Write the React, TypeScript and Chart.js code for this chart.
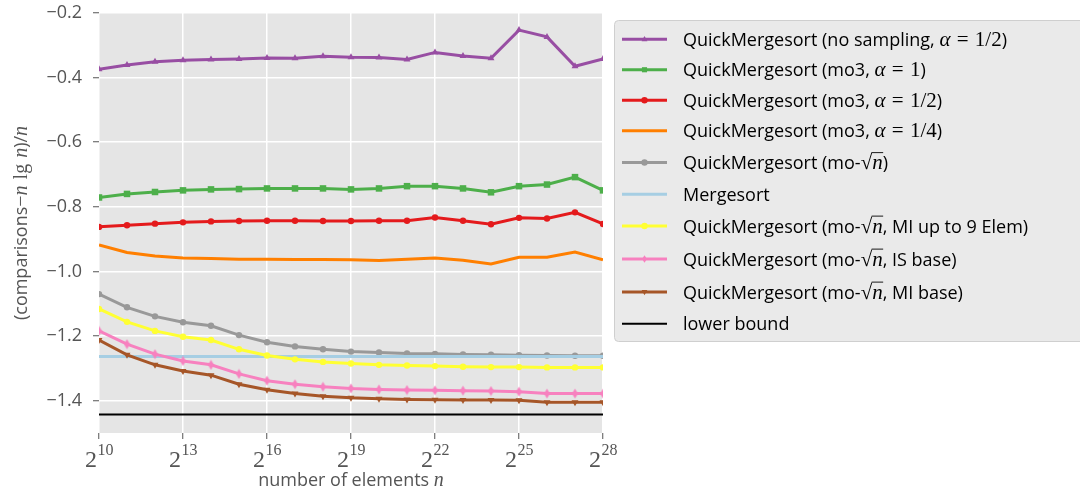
import React, { useEffect, useRef } from "react";
import { Chart, registerables } from "chart.js";
Chart.register(...registerables);

// ---- data ----
const EXPONENTS = [10, 11, 12, 13, 14, 15, 16, 17, 18, 19, 20, 21, 22, 23, 24, 25, 26, 27, 28];
const X_TICKS = [10, 13, 16, 19, 22, 25, 28];
const Y_TICKS = [-1.4, -1.2, -1.0, -0.8, -0.6, -0.4, -0.2];

const SERIES_LABELS = [
  "QuickMergesort (no sampling, $α = 1/2$)",
  "QuickMergesort (mo3, $α = 1$)",
  "QuickMergesort (mo3, $α = 1/2$)",
  "QuickMergesort (mo3, $α = 1/4$)",
  "QuickMergesort (mo-$√n$)",
  "Mergesort",
  "QuickMergesort (mo-$√n$, MI up to 9 Elem)",
  "QuickMergesort (mo-$√n$, IS base)",
  "QuickMergesort (mo-$√n$, MI base)",
  "lower bound",
];

const NO_SAMPLING = [-0.374, -0.361, -0.351, -0.346, -0.344, -0.342, -0.339, -0.340, -0.334, -0.337, -0.338, -0.344, -0.322, -0.333, -0.340, -0.253, -0.274, -0.365, -0.342];
const MO3_A1 = [-0.771, -0.760, -0.754, -0.749, -0.746, -0.745, -0.743, -0.743, -0.743, -0.746, -0.743, -0.736, -0.736, -0.743, -0.755, -0.736, -0.731, -0.708, -0.749];
const MO3_A12 = [-0.862, -0.857, -0.852, -0.848, -0.845, -0.844, -0.843, -0.843, -0.844, -0.844, -0.843, -0.843, -0.833, -0.843, -0.854, -0.834, -0.836, -0.817, -0.853];
const MO3_A14 = [-0.918, -0.941, -0.952, -0.958, -0.960, -0.962, -0.962, -0.963, -0.963, -0.964, -0.966, -0.962, -0.958, -0.965, -0.977, -0.956, -0.956, -0.940, -0.964];
const MO_SQRT = [-1.070, -1.111, -1.139, -1.157, -1.168, -1.197, -1.219, -1.232, -1.241, -1.248, -1.251, -1.254, -1.255, -1.257, -1.258, -1.259, -1.260, -1.261, -1.261];
const MERGESORT = [-1.263, -1.263, -1.263, -1.263, -1.263, -1.263, -1.263, -1.263, -1.263, -1.263, -1.263, -1.263, -1.263, -1.263, -1.263, -1.263, -1.263, -1.263, -1.263];
const MO_SQRT_MI9 = [-1.116, -1.156, -1.184, -1.202, -1.212, -1.241, -1.260, -1.272, -1.280, -1.285, -1.289, -1.291, -1.293, -1.295, -1.296, -1.296, -1.297, -1.297, -1.297];
const MO_SQRT_IS = [-1.184, -1.225, -1.256, -1.277, -1.289, -1.317, -1.338, -1.349, -1.357, -1.362, -1.365, -1.367, -1.368, -1.369, -1.370, -1.372, -1.378, -1.378, -1.378];
const MO_SQRT_MI = [-1.212, -1.258, -1.289, -1.308, -1.321, -1.349, -1.366, -1.378, -1.386, -1.391, -1.394, -1.396, -1.397, -1.398, -1.398, -1.399, -1.405, -1.405, -1.405];
const LOWER_BOUND = [-1.443, -1.443, -1.443, -1.443, -1.443, -1.443, -1.443, -1.443, -1.443, -1.443, -1.443, -1.443, -1.443, -1.443, -1.443, -1.443, -1.443, -1.443, -1.443];

const SERIES_VALUES = [NO_SAMPLING, MO3_A1, MO3_A12, MO3_A14, MO_SQRT, MERGESORT, MO_SQRT_MI9, MO_SQRT_IS, MO_SQRT_MI, LOWER_BOUND];
const COLORS = ["#984ea3", "#4daf4a", "#e41a1c", "#ff7f00", "#999999", "#a6cee3", "#ffff33", "#f781bf", "#a65628", "#000000"];
const MARKERS = ["triangle", "rect", "circle", "none", "circle", "none", "circle", "thinDiamond", "triangleDown", "none"];

// ---- styles ----
const SANS = '"Open Sans"';
const SERIF = '"Liberation Serif"';
const TEXT_GRAY = "#555555";

type Seg = { text: string; font: string; over?: boolean; space?: number };

function parseRich(str: string, sansSize: number, mathSize: number): Seg[] {
  const parts = str.split("$");
  const segs: Seg[] = [];
  parts.forEach((p, idx) => {
    if (!p) return;
    if (idx % 2 === 0) {
      segs.push({ text: p, font: `${sansSize}px ${SANS}` });
    } else {
      const toks = p.match(/[A-Za-z]{2,}|[A-Za-zα-ω]|√|\s+|[^A-Za-zα-ω√\s]/g) || [];
      let over = false;
      for (const t of toks) {
        if (/^\s+$/.test(t)) {
          segs.push({ text: "", font: `${mathSize}px ${SERIF}`, space: mathSize * 0.3 });
          continue;
        }
        const single = /^[A-Za-zα-ω]$/.test(t);
        segs.push({ text: t, font: `${single ? "italic " : ""}${mathSize}px ${SERIF}`, over });
        over = t === "√";
      }
    }
  });
  return segs;
}

function segWidth(ctx: CanvasRenderingContext2D, s: Seg) {
  if (s.space !== undefined) return s.space;
  ctx.font = s.font;
  return ctx.measureText(s.text).width;
}

function richWidth(ctx: CanvasRenderingContext2D, segs: Seg[]) {
  let w = 0;
  for (const s of segs) w += segWidth(ctx, s);
  return w;
}

function drawRich(ctx: CanvasRenderingContext2D, segs: Seg[], x: number, y: number, color: string, mathSize: number) {
  let cx = x;
  ctx.fillStyle = color;
  ctx.strokeStyle = color;
  ctx.textBaseline = "alphabetic";
  ctx.textAlign = "left";
  for (const s of segs) {
    const w = segWidth(ctx, s);
    if (s.text) {
      ctx.font = s.font;
      ctx.fillText(s.text, cx, y);
    }
    if (s.over) {
      ctx.lineWidth = 0.9;
      ctx.beginPath();
      const oy = y - mathSize * 0.78;
      ctx.moveTo(cx - 0.5, oy);
      ctx.lineTo(cx + w + 0.5, oy);
      ctx.stroke();
    }
    cx += w;
  }
}

function drawMarker(ctx: CanvasRenderingContext2D, style: string, x: number, y: number, r: number, color: string) {
  ctx.fillStyle = color;
  ctx.beginPath();
  if (style === "circle") {
    ctx.arc(x, y, r, 0, Math.PI * 2);
  } else if (style === "rect") {
    const s = r * 0.8;
    ctx.rect(x - s, y - s, 2 * s, 2 * s);
  } else if (style === "triangle") {
    ctx.moveTo(x, y - r);
    ctx.lineTo(x + r * 0.9, y + r * 0.6);
    ctx.lineTo(x - r * 0.9, y + r * 0.6);
  } else if (style === "triangleDown") {
    ctx.moveTo(x, y + r);
    ctx.lineTo(x + r * 0.9, y - r * 0.6);
    ctx.lineTo(x - r * 0.9, y - r * 0.6);
  } else if (style === "thinDiamond") {
    ctx.moveTo(x, y - r * 1.2);
    ctx.lineTo(x + r * 0.75, y);
    ctx.lineTo(x, y + r * 1.2);
    ctx.lineTo(x - r * 0.75, y);
  } else {
    return;
  }
  ctx.closePath();
  ctx.fill();
}

function makeThinDiamond(color: string) {
  const c = document.createElement("canvas");
  c.width = 7;
  c.height = 11;
  const g = c.getContext("2d")!;
  g.fillStyle = color;
  g.beginPath();
  g.moveTo(3.5, 0.5);
  g.lineTo(6.5, 5.5);
  g.lineTo(3.5, 10.5);
  g.lineTo(0.5, 5.5);
  g.closePath();
  g.fill();
  return c;
}

const bgPlugin = {
  id: "plotBg",
  beforeDraw(chart: any) {
    const { ctx, chartArea } = chart;
    ctx.save();
    ctx.fillStyle = "#e5e5e5";
    ctx.fillRect(chartArea.left, chartArea.top, chartArea.right - chartArea.left, chartArea.bottom - chartArea.top);
    ctx.restore();
  },
};

const decorPlugin = {
  id: "decor",
  afterDraw(chart: any) {
    const { ctx, chartArea } = chart;
    const xs = chart.scales.x;
    ctx.save();
    // x tick labels 2^k
    ctx.fillStyle = TEXT_GRAY;
    ctx.textBaseline = "alphabetic";
    ctx.textAlign = "left";
    const baseY = chartArea.bottom + 34;
    for (const v of X_TICKS) {
      const px = xs.getPixelForValue(v);
      ctx.font = `24px ${SERIF}`;
      const wb = ctx.measureText("2").width;
      ctx.font = `16px ${SERIF}`;
      const we = ctx.measureText(String(v)).width;
      const start = px - (wb + we) / 2;
      ctx.font = `24px ${SERIF}`;
      ctx.fillText("2", start, baseY);
      ctx.font = `16px ${SERIF}`;
      ctx.fillText(String(v), start + wb + 0.5, baseY - 12);
    }
    // x title
    const xt = parseRich("number of elements $n$", 18, 20);
    const xw = richWidth(ctx, xt);
    drawRich(ctx, xt, (chartArea.left + chartArea.right) / 2 - xw / 2, 486, TEXT_GRAY, 20);
    // y title
    const yt = parseRich("(comparisons$−n lg n$)/$n$", 18, 20);
    const yw = richWidth(ctx, yt);
    ctx.save();
    ctx.translate(27, (chartArea.top + chartArea.bottom) / 2);
    ctx.rotate(-Math.PI / 2);
    drawRich(ctx, yt, -yw / 2, 0, TEXT_GRAY, 20);
    ctx.restore();

    // legend
    const lx = 614.5;
    const ly = 20.5;
    ctx.beginPath();
    (ctx as any).roundRect(lx, ly, 500, 321, 4);
    ctx.fillStyle = "#eaeaea";
    ctx.fill();
    ctx.strokeStyle = "#cfcfcf";
    ctx.lineWidth = 1;
    ctx.stroke();

    let y = 24;
    chart.data.datasets.forEach((ds: any, i: number) => {
      const label: string = ds.label;
      const h = label.includes("√") ? 33 : 30.5;
      const cy = y + h / 2;
      y += h;
      ctx.strokeStyle = ds.borderColor;
      ctx.lineWidth = ds.borderWidth;
      ctx.beginPath();
      ctx.moveTo(622, cy);
      ctx.lineTo(667, cy);
      ctx.stroke();
      drawMarker(ctx, MARKERS[i], 644.5, cy, 3.2, ds.borderColor);
      const segs = parseRich(label, 18, 21);
      drawRich(ctx, segs, 683, cy + 6.5, "#000000", 21);
    });
    ctx.restore();
  },
};

export default function App() {
  const ref = useRef<HTMLCanvasElement>(null);
  useEffect(() => {
    const diamond = makeThinDiamond(COLORS[7]);
    const datasets = SERIES_VALUES.map((vals, i) => {
      const m = MARKERS[i];
      let pointStyle: any = "circle";
      let rotation = 0;
      let radius = 3.2;
      if (m === "triangle") { pointStyle = "triangle"; radius = 4; }
      else if (m === "triangleDown") { pointStyle = "triangle"; rotation = 180; radius = 4; }
      else if (m === "rect") { pointStyle = "rect"; radius = 4.6; }
      else if (m === "thinDiamond") { pointStyle = diamond; radius = 4; }
      else if (m === "none") { radius = 0; }
      return {
        label: SERIES_LABELS[i],
        data: EXPONENTS.map((x, j) => ({ x, y: vals[j] })),
        borderColor: COLORS[i],
        backgroundColor: COLORS[i],
        pointBackgroundColor: COLORS[i],
        pointBorderColor: COLORS[i],
        pointBorderWidth: 0,
        borderWidth: i === 9 ? 2 : 3,
        pointRadius: radius,
        pointStyle,
        pointRotation: rotation,
        tension: 0,
        order: -i,
      };
    });

    const chart = new Chart(ref.current!, {
      type: "line",
      data: { datasets },
      plugins: [bgPlugin, decorPlugin],
      options: {
        responsive: false,
        animation: false,
        devicePixelRatio: 1,
        layout: { padding: { top: 13, right: 477, left: 0, bottom: 0 } },
        plugins: { legend: { display: false }, tooltip: { enabled: false } },
        scales: {
          x: {
            type: "linear",
            min: 10,
            max: 28,
            afterBuildTicks: (s: any) => { s.ticks = X_TICKS.map((v) => ({ value: v })); },
            afterFit: (s: any) => { s.height = 62; s.paddingLeft = 0; s.paddingRight = 0; },
            border: { display: false },
            grid: { color: "#ffffff", lineWidth: 1.5, tickColor: "#555555", tickLength: 6, tickWidth: 1 },
            ticks: { callback: () => "", font: { size: 1 } },
          },
          y: {
            type: "linear",
            min: -1.5,
            max: -0.2,
            afterBuildTicks: (s: any) => { s.ticks = Y_TICKS.map((v) => ({ value: v })); },
            afterFit: (s: any) => { s.width = 99; s.paddingTop = 0; s.paddingBottom = 0; },
            border: { display: false },
            grid: { color: "#ffffff", lineWidth: 1.5, tickColor: "#555555", tickLength: 6, tickWidth: 1 },
            ticks: {
              color: TEXT_GRAY,
              padding: 11,
              font: { family: SANS, size: 18 },
              callback: (v: any) => (Number(v) < 0 ? "−" : "") + Math.abs(Number(v)).toFixed(1),
            },
          },
        },
      } as any,
    });
    return () => chart.destroy();
  }, []);
  return (
    <div style={{ position: "fixed", left: 0, top: 0, width: 1080, height: 495, background: "#ffffff" }}>
      <canvas ref={ref} width={1080} height={495} style={{ display: "block" }} />
    </div>
  );
}
